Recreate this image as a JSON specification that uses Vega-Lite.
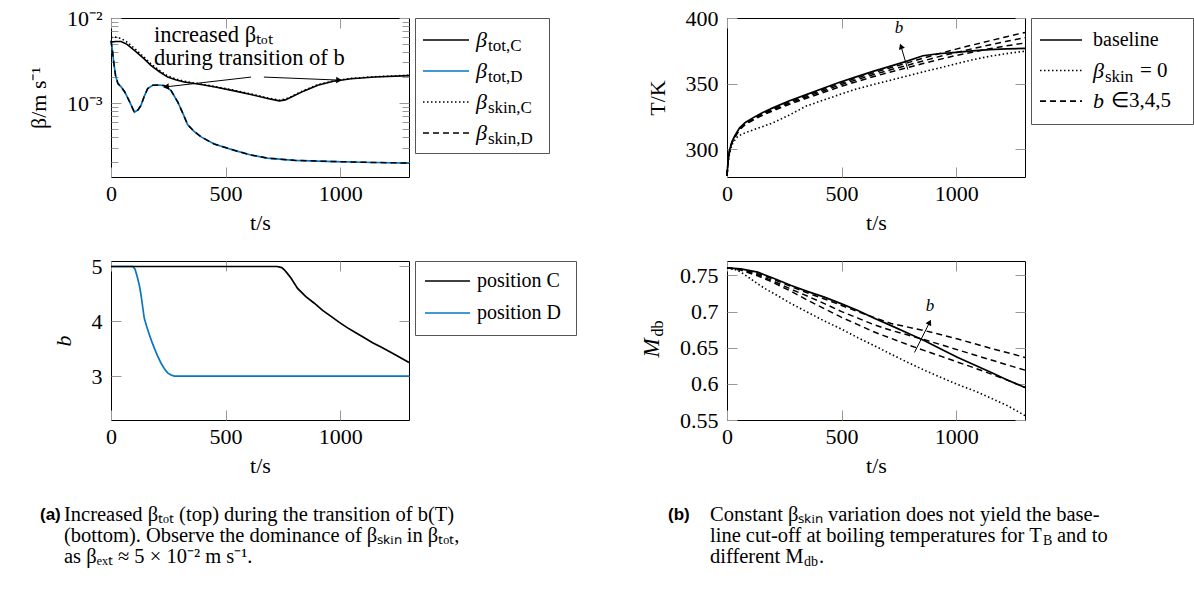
{
"$schema":"https://vega.github.io/schema/vega-lite/v6.json",
"padding":{"left":26,"top":6,"right":0,"bottom":0},
"background":"white",
"config":{
 "font":"Liberation Serif",
 "view":{"stroke":"#000","strokeWidth":1},
 "text":{"font":"Liberation Serif","color":"#000"},
 "axis":{"labelFont":"Liberation Serif","labelFontSize":22,"labelColor":"#000","titleFont":"Liberation Serif","titleFontSize":22,"titleFontWeight":"normal","titleColor":"#000","tickColor":"#999","tickSize":-10,"labelPadding":19,"domain":false,"grid":false,"labelFlush":false,"titlePadding":16}
},
"datasets":{
 "a1C":[{"t":0,"v":0.0052},{"t":20,"v":0.0053},{"t":44,"v":0.0053},{"t":70,"v":0.0049},{"t":102,"v":0.00417},{"t":140,"v":0.0034},{"t":174,"v":0.00278},{"t":210,"v":0.00235},{"t":247,"v":0.00202},{"t":285,"v":0.00187},{"t":320,"v":0.00177},{"t":393,"v":0.00165},{"t":460,"v":0.00153},{"t":538,"v":0.00139},{"t":610,"v":0.00126},{"t":683,"v":0.00113},{"t":734,"v":0.00106},{"t":760,"v":0.00109},{"t":785,"v":0.00117},{"t":840,"v":0.00138},{"t":902,"v":0.00162},{"t":970,"v":0.0018},{"t":1047,"v":0.00193},{"t":1150,"v":0.00202},{"t":1300,"v":0.0021}],
 "a1Cs":[{"t":0,"v":0.0059},{"t":20,"v":0.00595},{"t":44,"v":0.00575},{"t":70,"v":0.0052},{"t":102,"v":0.0044},{"t":140,"v":0.00355},{"t":174,"v":0.0029},{"t":210,"v":0.00243},{"t":247,"v":0.00208},{"t":285,"v":0.00191},{"t":320,"v":0.0018},{"t":393,"v":0.00167},{"t":460,"v":0.00155},{"t":538,"v":0.00141},{"t":610,"v":0.00128},{"t":683,"v":0.00115},{"t":734,"v":0.00108},{"t":760,"v":0.00111},{"t":785,"v":0.00119},{"t":840,"v":0.0014},{"t":902,"v":0.00164},{"t":970,"v":0.00182},{"t":1047,"v":0.00195},{"t":1150,"v":0.00204},{"t":1300,"v":0.00212}],
 "a1D":[{"t":0,"v":0.0054},{"t":6,"v":0.0042},{"t":12,"v":0.003},{"t":20,"v":0.0021},{"t":30,"v":0.0017},{"t":44,"v":0.00155},{"t":60,"v":0.00135},{"t":80,"v":0.00105},{"t":102,"v":0.00078},{"t":118,"v":0.00083},{"t":131,"v":0.00094},{"t":145,"v":0.0012},{"t":160,"v":0.00148},{"t":182,"v":0.00162},{"t":210,"v":0.00163},{"t":233,"v":0.0016},{"t":262,"v":0.0014},{"t":291,"v":0.00103},{"t":315,"v":0.00074},{"t":334,"v":0.00056},{"t":360,"v":0.00047},{"t":393,"v":0.0004},{"t":450,"v":0.00033},{"t":538,"v":0.000278},{"t":610,"v":0.000245},{"t":683,"v":0.000225},{"t":800,"v":0.000212},{"t":974,"v":0.000205},{"t":1150,"v":0.0002},{"t":1300,"v":0.000197}],
 "a1Ds":[{"t":0,"v":0.0054},{"t":6,"v":0.0042},{"t":12,"v":0.003},{"t":20,"v":0.0021},{"t":30,"v":0.0017},{"t":44,"v":0.00155},{"t":60,"v":0.00135},{"t":80,"v":0.00105},{"t":102,"v":0.00078},{"t":118,"v":0.00083},{"t":131,"v":0.00094},{"t":145,"v":0.0012},{"t":160,"v":0.00148},{"t":182,"v":0.00162},{"t":210,"v":0.00163},{"t":233,"v":0.0016},{"t":262,"v":0.0014},{"t":291,"v":0.00103},{"t":315,"v":0.00074},{"t":334,"v":0.00056},{"t":360,"v":0.00047},{"t":393,"v":0.0004},{"t":450,"v":0.00033},{"t":538,"v":0.000278},{"t":610,"v":0.000245},{"t":683,"v":0.000225},{"t":800,"v":0.000212},{"t":974,"v":0.000205},{"t":1150,"v":0.0002},{"t":1300,"v":0.000197}],
 "a2C":[{"t":0,"v":5},{"t":725,"v":5},{"t":745,"v":4.98},{"t":756,"v":4.94},{"t":770,"v":4.87},{"t":785,"v":4.79},{"t":814,"v":4.6},{"t":850,"v":4.45},{"t":887,"v":4.33},{"t":923,"v":4.2},{"t":960,"v":4.09},{"t":996,"v":3.98},{"t":1032,"v":3.88},{"t":1068,"v":3.79},{"t":1105,"v":3.7},{"t":1141,"v":3.61},{"t":1178,"v":3.53},{"t":1240,"v":3.39},{"t":1300,"v":3.25}],
 "a2D":[{"t":0,"v":5},{"t":95,"v":5},{"t":105,"v":4.95},{"t":116,"v":4.79},{"t":124,"v":4.65},{"t":131,"v":4.48},{"t":138,"v":4.27},{"t":145,"v":4.06},{"t":156,"v":3.9},{"t":167,"v":3.76},{"t":178,"v":3.63},{"t":189,"v":3.51},{"t":203,"v":3.37},{"t":218,"v":3.24},{"t":232,"v":3.14},{"t":247,"v":3.06},{"t":262,"v":3.02},{"t":276,"v":3.0},{"t":1300,"v":3.0}],
 "b1base":[{"t":0,"v":280},{"t":4,"v":290},{"t":12,"v":300},{"t":22,"v":306},{"t":33,"v":310},{"t":55,"v":316.4},{"t":80,"v":320.5},{"t":113,"v":324},{"t":150,"v":327.6},{"t":200,"v":331.6},{"t":270,"v":336.8},{"t":346,"v":341.7},{"t":420,"v":346.5},{"t":491,"v":351.1},{"t":560,"v":355},{"t":637,"v":359.4},{"t":710,"v":363.2},{"t":782,"v":367},{"t":855,"v":371.3},{"t":920,"v":372.8},{"t":1000,"v":373.9},{"t":1070,"v":375},{"t":1145,"v":375.9},{"t":1220,"v":376.5},{"t":1300,"v":376.9}],
 "b1b5":[{"t":0,"v":280},{"t":4,"v":290},{"t":12,"v":300},{"t":22,"v":305.7},{"t":33,"v":309.6},{"t":55,"v":315.9},{"t":80,"v":320},{"t":113,"v":323.4},{"t":150,"v":327},{"t":200,"v":330.9},{"t":270,"v":336},{"t":346,"v":340.9},{"t":420,"v":345.6},{"t":491,"v":350.1},{"t":560,"v":354},{"t":637,"v":358.2},{"t":710,"v":362},{"t":782,"v":365.6},{"t":855,"v":369.4},{"t":920,"v":372.6},{"t":1000,"v":376.3},{"t":1070,"v":379.4},{"t":1145,"v":382.6},{"t":1220,"v":385.8},{"t":1300,"v":389}],
 "b1b4":[{"t":0,"v":280},{"t":4,"v":289.8},{"t":12,"v":299.8},{"t":22,"v":305.4},{"t":33,"v":309.2},{"t":55,"v":315.4},{"t":80,"v":319.4},{"t":113,"v":322.8},{"t":150,"v":326.3},{"t":200,"v":330.1},{"t":270,"v":335.1},{"t":346,"v":339.9},{"t":420,"v":344.5},{"t":491,"v":348.9},{"t":560,"v":352.7},{"t":637,"v":356.8},{"t":710,"v":360.4},{"t":782,"v":363.8},{"t":855,"v":367.3},{"t":920,"v":370.4},{"t":1000,"v":373.8},{"t":1070,"v":376.6},{"t":1145,"v":379.5},{"t":1220,"v":382.3},{"t":1300,"v":385}],
 "b1b3":[{"t":0,"v":280},{"t":4,"v":289.6},{"t":12,"v":299.5},{"t":22,"v":305.1},{"t":33,"v":308.8},{"t":55,"v":314.9},{"t":80,"v":318.9},{"t":113,"v":322.2},{"t":150,"v":325.6},{"t":200,"v":329.3},{"t":270,"v":334.2},{"t":346,"v":338.9},{"t":420,"v":343.3},{"t":491,"v":347.6},{"t":560,"v":351.3},{"t":637,"v":355.3},{"t":710,"v":358.7},{"t":782,"v":362},{"t":855,"v":365.3},{"t":920,"v":368.2},{"t":1000,"v":371.5},{"t":1070,"v":374},{"t":1145,"v":376.6},{"t":1220,"v":378.8},{"t":1300,"v":381}],
 "b1skin":[{"t":0,"v":280},{"t":5,"v":290},{"t":12,"v":298},{"t":25,"v":305},{"t":45,"v":309.5},{"t":62,"v":311.3},{"t":100,"v":314},{"t":150,"v":317},{"t":200,"v":320.2},{"t":270,"v":326},{"t":346,"v":333},{"t":420,"v":337.5},{"t":491,"v":341.7},{"t":560,"v":345.7},{"t":637,"v":349.3},{"t":710,"v":352.5},{"t":782,"v":355.7},{"t":855,"v":359},{"t":927,"v":362},{"t":1000,"v":365.2},{"t":1073,"v":368.3},{"t":1150,"v":371},{"t":1230,"v":373.2},{"t":1300,"v":374.7}],
 "b2base":[{"t":0,"v":0.7605},{"t":60,"v":0.759},{"t":134,"v":0.7546},{"t":200,"v":0.7465},{"t":280,"v":0.736},{"t":350,"v":0.728},{"t":425,"v":0.72},{"t":500,"v":0.7107},{"t":571,"v":0.7014},{"t":640,"v":0.691},{"t":716,"v":0.6806},{"t":790,"v":0.67},{"t":862,"v":0.6597},{"t":935,"v":0.648},{"t":1007,"v":0.6366},{"t":1080,"v":0.626},{"t":1153,"v":0.6157},{"t":1225,"v":0.605},{"t":1300,"v":0.595}],
 "b2b5":[{"t":0,"v":0.7605},{"t":60,"v":0.7585},{"t":134,"v":0.7525},{"t":200,"v":0.745},{"t":280,"v":0.7345},{"t":350,"v":0.726},{"t":425,"v":0.7175},{"t":500,"v":0.7085},{"t":571,"v":0.7},{"t":640,"v":0.692},{"t":716,"v":0.6835},{"t":790,"v":0.6785},{"t":862,"v":0.6736},{"t":935,"v":0.668},{"t":1007,"v":0.662},{"t":1080,"v":0.6555},{"t":1153,"v":0.649},{"t":1225,"v":0.643},{"t":1300,"v":0.6366}],
 "b2b4":[{"t":0,"v":0.7605},{"t":60,"v":0.758},{"t":134,"v":0.751},{"t":200,"v":0.7425},{"t":280,"v":0.731},{"t":350,"v":0.7215},{"t":425,"v":0.711},{"t":500,"v":0.7},{"t":571,"v":0.691},{"t":640,"v":0.682},{"t":716,"v":0.674},{"t":790,"v":0.6675},{"t":862,"v":0.661},{"t":935,"v":0.654},{"t":1007,"v":0.647},{"t":1080,"v":0.64},{"t":1153,"v":0.633},{"t":1225,"v":0.626},{"t":1300,"v":0.619}],
 "b2b3":[{"t":0,"v":0.7605},{"t":60,"v":0.7575},{"t":134,"v":0.7495},{"t":200,"v":0.7405},{"t":280,"v":0.728},{"t":350,"v":0.716},{"t":425,"v":0.704},{"t":500,"v":0.692},{"t":571,"v":0.682},{"t":640,"v":0.672},{"t":716,"v":0.663},{"t":790,"v":0.654},{"t":862,"v":0.646},{"t":935,"v":0.638},{"t":1007,"v":0.63},{"t":1080,"v":0.622},{"t":1153,"v":0.6135},{"t":1225,"v":0.605},{"t":1300,"v":0.595}],
 "b2skin":[{"t":0,"v":0.7606},{"t":30,"v":0.759},{"t":61,"v":0.7546},{"t":100,"v":0.746},{"t":134,"v":0.7384},{"t":170,"v":0.731},{"t":207,"v":0.7245},{"t":280,"v":0.711},{"t":352,"v":0.699},{"t":425,"v":0.687},{"t":498,"v":0.676},{"t":570,"v":0.664},{"t":643,"v":0.6528},{"t":716,"v":0.641},{"t":789,"v":0.6296},{"t":860,"v":0.619},{"t":934,"v":0.6088},{"t":1007,"v":0.599},{"t":1080,"v":0.5903},{"t":1153,"v":0.58},{"t":1226,"v":0.5694},{"t":1300,"v":0.556}]
},
"columns":5,
"spacing":{"row":84,"column":6},
"bounds":"flush",
"align":"each",
"resolve":{"scale":{"color":"independent","strokeDash":"independent"}},
"concat":[
{"width":298,"height":159,
 "layer":[
  {"data":{"name":"a1D"},"mark":{"type":"line","stroke":"#0a75c2","strokeWidth":1.7},
   "encoding":{"x":{"field":"t","type":"quantitative","scale":{"domain":[0,1300],"nice":false,"zero":false},"axis":{"orient":"bottom","values":[0,500,1000],"format":"d","title":"t/s","labelPadding":16,"titlePadding":8}},
   "y":{"field":"v","type":"quantitative","scale":{"type":"log","domain":[0.000135,0.01],"nice":false},"axis":{"orient":"left","values":[0.001,0.01],"labelExpr":"datum.value < 0.005 ? '10⁻³' : '10⁻²'","title":"β/m s⁻¹"}}}},
  {"data":{"name":"a1Ds"},"mark":{"type":"line","stroke":"#000","strokeWidth":1.5,"strokeDash":[6,4]},
   "encoding":{"x":{"field":"t","type":"quantitative","scale":{"domain":[0,1300],"nice":false,"zero":false},"axis":{"orient":"top","values":[0,500,1000],"labels":false,"title":null}},
   "y":{"field":"v","type":"quantitative","scale":{"type":"log","domain":[0.000135,0.01],"nice":false},"axis":{"orient":"right","values":[0.001,0.01],"labels":false,"title":null}}}},
  {"data":{"name":"a1C"},"mark":{"type":"line","stroke":"#000","strokeWidth":1.6},
   "encoding":{"x":{"field":"t","type":"quantitative","scale":{"domain":[0,1300],"nice":false,"zero":false},"axis":null},
   "y":{"field":"v","type":"quantitative","scale":{"type":"log","domain":[0.000135,0.01],"nice":false},"axis":{"orient":"left","values":[0.0002,0.0003,0.0004,0.0005,0.0006,0.0007,0.0008,0.0009,0.002,0.003,0.004,0.005,0.006,0.007,0.008,0.009],"labels":false,"title":null,"tickSize":-7}}}},
  {"data":{"name":"a1Cs"},"mark":{"type":"line","stroke":"#000","strokeWidth":1.6,"strokeDash":[1.5,2.5]},
   "encoding":{"x":{"field":"t","type":"quantitative","scale":{"domain":[0,1300],"nice":false,"zero":false},"axis":null},
   "y":{"field":"v","type":"quantitative","scale":{"type":"log","domain":[0.000135,0.01],"nice":false},"axis":{"orient":"right","values":[0.0002,0.0003,0.0004,0.0005,0.0006,0.0007,0.0008,0.0009,0.002,0.003,0.004,0.005,0.006,0.007,0.008,0.009],"labels":false,"title":null,"tickSize":-7}}}},
  {"data":{"values":[{"t":188,"v":0.0063,"txt":"increased βₜₒₜ"},{"t":188,"v":0.00338,"txt":"during transition of b"}]},
   "mark":{"type":"text","align":"left","baseline":"middle","fontSize":22.5,"font":"Liberation Serif"},
   "encoding":{"x":{"field":"t","type":"quantitative","scale":{"domain":[0,1300],"nice":false,"zero":false},"axis":null},"y":{"field":"v","type":"quantitative","scale":{"type":"log","domain":[0.000135,0.01],"nice":false},"axis":null},"text":{"field":"txt"}}},
  {"data":{"values":[{"t":611,"v":0.00202,"t2":240,"v2":0.00155},{"t":667,"v":0.00202,"t2":995,"v2":0.00186}]},
   "mark":{"type":"rule","stroke":"#000","strokeWidth":1},
   "encoding":{"x":{"field":"t","type":"quantitative","scale":{"domain":[0,1300],"nice":false,"zero":false},"axis":null},"y":{"field":"v","type":"quantitative","scale":{"type":"log","domain":[0.000135,0.01],"nice":false},"axis":null},"x2":{"field":"t2"},"y2":{"field":"v2"}}},
  {"data":{"values":[{"t":240,"v":0.00155}]},
   "mark":{"type":"point","shape":"triangle-left","filled":true,"color":"#000","opacity":1,"size":45,"angle":-7},
   "encoding":{"x":{"field":"t","type":"quantitative","scale":{"domain":[0,1300],"nice":false,"zero":false},"axis":null},"y":{"field":"v","type":"quantitative","scale":{"type":"log","domain":[0.000135,0.01],"nice":false},"axis":null}}},
  {"data":{"values":[{"t":995,"v":0.00186}]},
   "mark":{"type":"point","shape":"triangle-right","filled":true,"color":"#000","opacity":1,"size":45,"angle":2},
   "encoding":{"x":{"field":"t","type":"quantitative","scale":{"domain":[0,1300],"nice":false,"zero":false},"axis":null},"y":{"field":"v","type":"quantitative","scale":{"type":"log","domain":[0.000135,0.01],"nice":false},"axis":null}}}
 ],
 "resolve":{"axis":{"x":"independent","y":"independent"}}
},
{"width":134,"height":135,"view":{"stroke":"#555"},
 "data":{"values":[{"k":1,"key":"totC","it":"β","sub":"tot,C"},{"k":2,"key":"totD","it":"β","sub":"tot,D"},{"k":3,"key":"skinC","it":"β","sub":"skin,C"},{"k":4,"key":"skinD","it":"β","sub":"skin,D"}]},
 "encoding":{"y":{"field":"k","type":"quantitative","scale":{"domain":[0.29,4.645],"reverse":true,"nice":false,"zero":false},"axis":null}},
 "layer":[
  {"mark":{"type":"rule","strokeWidth":1.6},
   "encoding":{"x":{"datum":8,"type":"quantitative","scale":{"domain":[0,134],"nice":false,"zero":false},"axis":null},"x2":{"datum":54},
   "color":{"field":"key","type":"nominal","scale":{"domain":["totC","totD","skinC","skinD"],"range":["#000000","#0a75c2","#000000","#000000"]},"legend":null},
   "strokeDash":{"field":"key","type":"nominal","scale":{"domain":["totC","totD","skinC","skinD"],"range":[[1,0],[1,0],[1.5,2.5],[6,4]]},"legend":null}}},
  {"mark":{"type":"text","align":"left","baseline":"middle","fontSize":22,"fontStyle":"italic","font":"Liberation Serif"},
   "encoding":{"x":{"datum":61,"type":"quantitative","scale":{"domain":[0,134],"nice":false,"zero":false},"axis":null},"text":{"field":"it"}}},
  {"mark":{"type":"text","align":"left","baseline":"middle","fontSize":17,"dx":12,"dy":6,"font":"Liberation Serif"},
   "encoding":{"x":{"datum":61,"type":"quantitative","scale":{"domain":[0,134],"nice":false,"zero":false},"axis":null},"text":{"field":"sub"}}}
 ]
},
{"width":139,"height":1,"view":{"stroke":null},"data":{"values":[{}]},"mark":{"type":"point","opacity":0},"encoding":{}},
{"width":298,"height":159,
 "layer":[
  {"data":{"name":"b1b3"},"mark":{"type":"line","stroke":"#000","strokeWidth":1.5,"strokeDash":[6,4]},
   "encoding":{"x":{"field":"t","type":"quantitative","scale":{"domain":[0,1300],"nice":false,"zero":false},"axis":{"orient":"bottom","values":[0,500,1000],"format":"d","title":"t/s","labelPadding":16,"titlePadding":8}},
   "y":{"field":"v","type":"quantitative","scale":{"domain":[279,400],"nice":false,"zero":false},"axis":{"orient":"left","values":[300,350,400],"title":"T/K"}}}},
  {"data":{"name":"b1b4"},"mark":{"type":"line","stroke":"#000","strokeWidth":1.5,"strokeDash":[6,4]},
   "encoding":{"x":{"field":"t","type":"quantitative","scale":{"domain":[0,1300],"nice":false,"zero":false},"axis":{"orient":"top","values":[0,500,1000],"labels":false,"title":null}},
   "y":{"field":"v","type":"quantitative","scale":{"domain":[279,400],"nice":false,"zero":false},"axis":{"orient":"right","values":[300,350,400],"labels":false,"title":null}}}},
  {"data":{"name":"b1b5"},"mark":{"type":"line","stroke":"#000","strokeWidth":1.5,"strokeDash":[6,4]},
   "encoding":{"x":{"field":"t","type":"quantitative","scale":{"domain":[0,1300],"nice":false,"zero":false},"axis":null},"y":{"field":"v","type":"quantitative","scale":{"domain":[279,400],"nice":false,"zero":false},"axis":null}}},
  {"data":{"name":"b1skin"},"mark":{"type":"line","stroke":"#000","strokeWidth":1.6,"strokeDash":[1.5,2.5]},
   "encoding":{"x":{"field":"t","type":"quantitative","scale":{"domain":[0,1300],"nice":false,"zero":false},"axis":null},"y":{"field":"v","type":"quantitative","scale":{"domain":[279,400],"nice":false,"zero":false},"axis":null}}},
  {"data":{"name":"b1base"},"mark":{"type":"line","stroke":"#000","strokeWidth":1.7},
   "encoding":{"x":{"field":"t","type":"quantitative","scale":{"domain":[0,1300],"nice":false,"zero":false},"axis":null},"y":{"field":"v","type":"quantitative","scale":{"domain":[279,400],"nice":false,"zero":false},"axis":null}}},
  {"data":{"values":[{"t":789,"v":360.7,"t2":759,"v2":378.5}]},"mark":{"type":"rule","stroke":"#000","strokeWidth":1},
   "encoding":{"x":{"field":"t","type":"quantitative","scale":{"domain":[0,1300],"nice":false,"zero":false},"axis":null},"y":{"field":"v","type":"quantitative","scale":{"domain":[279,400],"nice":false,"zero":false},"axis":null},"x2":{"field":"t2"},"y2":{"field":"v2"}}},
  {"data":{"values":[{"t":759,"v":378.5}]},"mark":{"type":"point","shape":"triangle-up","filled":true,"color":"#000","opacity":1,"size":40,"angle":-20},
   "encoding":{"x":{"field":"t","type":"quantitative","scale":{"domain":[0,1300],"nice":false,"zero":false},"axis":null},"y":{"field":"v","type":"quantitative","scale":{"domain":[279,400],"nice":false,"zero":false},"axis":null}}},
  {"data":{"values":[{"t":750,"v":392.4,"lab":"b"}]},"mark":{"type":"text","align":"center","baseline":"middle","fontSize":17,"fontStyle":"italic","font":"Liberation Serif"},
   "encoding":{"x":{"field":"t","type":"quantitative","scale":{"domain":[0,1300],"nice":false,"zero":false},"axis":null},"y":{"field":"v","type":"quantitative","scale":{"domain":[279,400],"nice":false,"zero":false},"axis":null},"text":{"field":"lab"}}}
 ],
 "resolve":{"axis":{"x":"independent","y":"independent"}}
},
{"width":162,"height":106,"view":{"stroke":"#555"},
 "data":{"values":[{"k":1,"key":"base","rm":"baseline","it":"","sub":"","tail":"","tail2":""},{"k":2,"key":"skin0","rm":"","it":"β","sub":"skin","tail":"= 0","tail2":""},{"k":3,"key":"bvar","rm":"","it":"b","sub":"","tail":"","tail2":"∈3,4,5"}]},
 "encoding":{"y":{"field":"k","type":"quantitative","scale":{"domain":[0.28,3.75],"reverse":true,"nice":false,"zero":false},"axis":null}},
 "layer":[
  {"mark":{"type":"rule","strokeWidth":1.6},
   "encoding":{"x":{"datum":9,"type":"quantitative","scale":{"domain":[0,162],"nice":false,"zero":false},"axis":null},"x2":{"datum":51},
   "color":{"field":"key","type":"nominal","scale":{"domain":["base","skin0","bvar"],"range":["#000000","#000000","#000000"]},"legend":null},
   "strokeDash":{"field":"key","type":"nominal","scale":{"domain":["base","skin0","bvar"],"range":[[1,0],[1.5,2.5],[6,4]]},"legend":null}}},
  {"mark":{"type":"text","align":"left","baseline":"middle","fontSize":20,"font":"Liberation Serif"},
   "encoding":{"x":{"datum":62,"type":"quantitative","scale":{"domain":[0,162],"nice":false,"zero":false},"axis":null},"text":{"field":"rm"}}},
  {"mark":{"type":"text","align":"left","baseline":"middle","fontSize":22,"fontStyle":"italic","font":"Liberation Serif"},
   "encoding":{"x":{"datum":62,"type":"quantitative","scale":{"domain":[0,162],"nice":false,"zero":false},"axis":null},"text":{"field":"it"}}},
  {"mark":{"type":"text","align":"left","baseline":"middle","fontSize":17,"dx":12,"dy":6,"font":"Liberation Serif"},
   "encoding":{"x":{"datum":62,"type":"quantitative","scale":{"domain":[0,162],"nice":false,"zero":false},"axis":null},"text":{"field":"sub"}}},
  {"mark":{"type":"text","align":"left","baseline":"middle","fontSize":21,"dx":47,"font":"Liberation Serif"},
   "encoding":{"x":{"datum":62,"type":"quantitative","scale":{"domain":[0,162],"nice":false,"zero":false},"axis":null},"text":{"field":"tail"}}},
  {"mark":{"type":"text","align":"left","baseline":"middle","fontSize":21,"dx":18,"font":"Liberation Serif"},
   "encoding":{"x":{"datum":62,"type":"quantitative","scale":{"domain":[0,162],"nice":false,"zero":false},"axis":null},"text":{"field":"tail2"}}}
 ]
},
{"width":298,"height":159,
 "layer":[
  {"data":{"name":"a2D"},"mark":{"type":"line","stroke":"#0a75c2","strokeWidth":1.7},
   "encoding":{"x":{"field":"t","type":"quantitative","scale":{"domain":[0,1300],"nice":false,"zero":false},"axis":{"orient":"bottom","values":[0,500,1000],"format":"d","title":"t/s","labelPadding":16,"titlePadding":8}},
   "y":{"field":"v","type":"quantitative","scale":{"domain":[2.2,5.1],"nice":false,"zero":false},"axis":{"orient":"left","values":[3,4,5],"title":"b","titleFontStyle":"italic"}}}},
  {"data":{"name":"a2C"},"mark":{"type":"line","stroke":"#000","strokeWidth":1.7},
   "encoding":{"x":{"field":"t","type":"quantitative","scale":{"domain":[0,1300],"nice":false,"zero":false},"axis":{"orient":"top","values":[0,500,1000],"labels":false,"title":null}},
   "y":{"field":"v","type":"quantitative","scale":{"domain":[2.2,5.1],"nice":false,"zero":false},"axis":{"orient":"right","values":[3,4,5],"labels":false,"title":null}}}}
 ],
 "resolve":{"axis":{"x":"independent","y":"independent"}}
},
{"width":161,"height":74,"view":{"stroke":"#555"},
 "data":{"values":[{"k":1,"key":"C","rm":"position C"},{"k":2,"key":"D","rm":"position D"}]},
 "encoding":{"y":{"field":"k","type":"quantitative","scale":{"domain":[0.375,2.69],"reverse":true,"nice":false,"zero":false},"axis":null}},
 "layer":[
  {"mark":{"type":"rule","strokeWidth":1.6},
   "encoding":{"x":{"datum":10,"type":"quantitative","scale":{"domain":[0,161],"nice":false,"zero":false},"axis":null},"x2":{"datum":55},
   "color":{"field":"key","type":"nominal","scale":{"domain":["C","D"],"range":["#000000","#0a75c2"]},"legend":null}}},
  {"mark":{"type":"text","align":"left","baseline":"middle","fontSize":20,"font":"Liberation Serif"},
   "encoding":{"x":{"datum":62,"type":"quantitative","scale":{"domain":[0,161],"nice":false,"zero":false},"axis":null},"text":{"field":"rm"}}}
 ]
},
{"width":1,"height":1,"view":{"stroke":null},"data":{"values":[{}]},"mark":{"type":"point","opacity":0},"encoding":{}},
{"width":298,"height":159,
 "layer":[
  {"data":{"name":"b2b3"},"mark":{"type":"line","stroke":"#000","strokeWidth":1.5,"strokeDash":[6,4]},
   "encoding":{"x":{"field":"t","type":"quantitative","scale":{"domain":[0,1300],"nice":false,"zero":false},"axis":{"orient":"bottom","values":[0,500,1000],"format":"d","title":"t/s","labelPadding":16,"titlePadding":8}},
   "y":{"field":"v","type":"quantitative","scale":{"domain":[0.55,0.77],"nice":false,"zero":false},"axis":{"orient":"left","values":[0.55,0.6,0.65,0.7,0.75],"format":".2~f","title":null}}}},
  {"data":{"name":"b2b4"},"mark":{"type":"line","stroke":"#000","strokeWidth":1.5,"strokeDash":[6,4]},
   "encoding":{"x":{"field":"t","type":"quantitative","scale":{"domain":[0,1300],"nice":false,"zero":false},"axis":{"orient":"top","values":[0,500,1000],"labels":false,"title":null}},
   "y":{"field":"v","type":"quantitative","scale":{"domain":[0.55,0.77],"nice":false,"zero":false},"axis":{"orient":"right","values":[0.55,0.6,0.65,0.7,0.75],"labels":false,"title":null}}}},
  {"data":{"name":"b2b5"},"mark":{"type":"line","stroke":"#000","strokeWidth":1.5,"strokeDash":[6,4]},
   "encoding":{"x":{"field":"t","type":"quantitative","scale":{"domain":[0,1300],"nice":false,"zero":false},"axis":null},"y":{"field":"v","type":"quantitative","scale":{"domain":[0.55,0.77],"nice":false,"zero":false},"axis":null}}},
  {"data":{"name":"b2skin"},"mark":{"type":"line","stroke":"#000","strokeWidth":1.6,"strokeDash":[1.5,2.5]},
   "encoding":{"x":{"field":"t","type":"quantitative","scale":{"domain":[0,1300],"nice":false,"zero":false},"axis":null},"y":{"field":"v","type":"quantitative","scale":{"domain":[0.55,0.77],"nice":false,"zero":false},"axis":null}}},
  {"data":{"name":"b2base"},"mark":{"type":"line","stroke":"#000","strokeWidth":1.7},
   "encoding":{"x":{"field":"t","type":"quantitative","scale":{"domain":[0,1300],"nice":false,"zero":false},"axis":null},"y":{"field":"v","type":"quantitative","scale":{"domain":[0.55,0.77],"nice":false,"zero":false},"axis":null}}},
  {"data":{"values":[{"t":818,"v":0.6435,"t2":884,"v2":0.6852}]},"mark":{"type":"rule","stroke":"#000","strokeWidth":1},
   "encoding":{"x":{"field":"t","type":"quantitative","scale":{"domain":[0,1300],"nice":false,"zero":false},"axis":null},"y":{"field":"v","type":"quantitative","scale":{"domain":[0.55,0.77],"nice":false,"zero":false},"axis":null},"x2":{"field":"t2"},"y2":{"field":"v2"}}},
  {"data":{"values":[{"t":884,"v":0.6852}]},"mark":{"type":"point","shape":"triangle-up","filled":true,"color":"#000","opacity":1,"size":40,"angle":27},
   "encoding":{"x":{"field":"t","type":"quantitative","scale":{"domain":[0,1300],"nice":false,"zero":false},"axis":null},"y":{"field":"v","type":"quantitative","scale":{"domain":[0.55,0.77],"nice":false,"zero":false},"axis":null}}},
  {"data":{"values":[{"t":886,"v":0.7083,"lab":"b"}]},"mark":{"type":"text","align":"center","baseline":"middle","fontSize":17,"fontStyle":"italic","font":"Liberation Serif"},
   "encoding":{"x":{"field":"t","type":"quantitative","scale":{"domain":[0,1300],"nice":false,"zero":false},"axis":null},"y":{"field":"v","type":"quantitative","scale":{"domain":[0.55,0.77],"nice":false,"zero":false},"axis":null},"text":{"field":"lab"}}},
  {"data":{"values":[{}]},"mark":{"type":"text","angle":270,"align":"left","baseline":"alphabetic","fontSize":23,"fontStyle":"italic","font":"Liberation Serif","dy":-68},
   "encoding":{"x":{"datum":0,"type":"quantitative","scale":{"domain":[0,1300],"nice":false,"zero":false},"axis":null},"y":{"datum":0.6365,"type":"quantitative","scale":{"domain":[0.55,0.77],"nice":false,"zero":false},"axis":null},"text":{"value":"M"}}},
  {"data":{"values":[{}]},"mark":{"type":"text","angle":270,"align":"left","baseline":"alphabetic","fontSize":16,"dx":21,"dy":-64,"font":"Liberation Serif"},
   "encoding":{"x":{"datum":0,"type":"quantitative","scale":{"domain":[0,1300],"nice":false,"zero":false},"axis":null},"y":{"datum":0.6365,"type":"quantitative","scale":{"domain":[0.55,0.77],"nice":false,"zero":false},"axis":null},"text":{"value":"db"}}}
 ],
 "resolve":{"axis":{"x":"independent","y":"independent"}}
},
{"width":1,"height":1,"view":{"stroke":null},"data":{"values":[{}]},"mark":{"type":"point","opacity":0},"encoding":{}},
{"width":298,"height":62,"view":{"stroke":null},
 "data":{"values":[{"ln":1,"lab":"(a)","txt":"Increased βₜₒₜ (top) during the transition of b(T)"},{"ln":2,"lab":"","txt":"(bottom). Observe the dominance of βₛₖᵢₙ in βₜₒₜ,"},{"ln":3,"lab":"","txt":"as βₑₓₜ ≈ 5 × 10⁻² m s⁻¹."}]},
 "encoding":{"y":{"field":"ln","type":"quantitative","scale":{"domain":[0.476,3.43],"reverse":true,"nice":false,"zero":false},"axis":null}},
 "layer":[
  {"mark":{"type":"text","align":"left","baseline":"middle","fontSize":17,"font":"Liberation Sans","fontWeight":"bold"},
   "encoding":{"x":{"datum":-71,"type":"quantitative","scale":{"domain":[0,298],"nice":false,"zero":false},"axis":null},"text":{"field":"lab"}}},
  {"mark":{"type":"text","align":"left","baseline":"middle","fontSize":20.5,"font":"Liberation Serif"},
   "encoding":{"x":{"datum":-47,"type":"quantitative","scale":{"domain":[0,298],"nice":false,"zero":false},"axis":null},"text":{"field":"txt"}}}
 ]
},
{"width":1,"height":1,"view":{"stroke":null},"data":{"values":[{}]},"mark":{"type":"point","opacity":0},"encoding":{}},
{"width":1,"height":1,"view":{"stroke":null},"data":{"values":[{}]},"mark":{"type":"point","opacity":0},"encoding":{}},
{"width":298,"height":62,"view":{"stroke":null},
 "data":{"values":[{"ln":1,"lab":"(b)","a":"Constant βₛₖᵢₙ variation does not yield the base-","r":"","s":"","e":""},{"ln":2,"lab":"","a":"","r":"line cut-off at boiling temperatures for T","s":"B","e":"and to"},{"ln":3,"lab":"","a":"","r":"different M","s":"db","e":"."}]},
 "encoding":{"y":{"field":"ln","type":"quantitative","scale":{"domain":[0.476,3.43],"reverse":true,"nice":false,"zero":false},"axis":null}},
 "layer":[
  {"mark":{"type":"text","align":"left","baseline":"middle","fontSize":17,"font":"Liberation Sans","fontWeight":"bold"},
   "encoding":{"x":{"datum":-59,"type":"quantitative","scale":{"domain":[0,298],"nice":false,"zero":false},"axis":null},"text":{"field":"lab"}}},
  {"mark":{"type":"text","align":"left","baseline":"middle","fontSize":20.5,"font":"Liberation Serif"},
   "encoding":{"x":{"datum":-17,"type":"quantitative","scale":{"domain":[0,298],"nice":false,"zero":false},"axis":null},"text":{"field":"a"}}},
  {"transform":[{"filter":"datum.ln == 2"}],"mark":{"type":"text","align":"left","baseline":"middle","fontSize":20.5,"font":"Liberation Serif"},
   "encoding":{"x":{"datum":-17,"type":"quantitative","scale":{"domain":[0,298],"nice":false,"zero":false},"axis":null},"text":{"field":"r"}}},
  {"transform":[{"filter":"datum.ln == 2"}],"mark":{"type":"text","align":"left","baseline":"middle","fontSize":14,"dy":5,"font":"Liberation Serif"},
   "encoding":{"x":{"datum":316,"type":"quantitative","scale":{"domain":[0,298],"nice":false,"zero":false},"axis":null},"text":{"field":"s"}}},
  {"transform":[{"filter":"datum.ln == 2"}],"mark":{"type":"text","align":"left","baseline":"middle","fontSize":20.5,"font":"Liberation Serif"},
   "encoding":{"x":{"datum":330,"type":"quantitative","scale":{"domain":[0,298],"nice":false,"zero":false},"axis":null},"text":{"field":"e"}}},
  {"transform":[{"filter":"datum.ln == 3"}],"mark":{"type":"text","align":"left","baseline":"middle","fontSize":20.5,"font":"Liberation Serif"},
   "encoding":{"x":{"datum":-17,"type":"quantitative","scale":{"domain":[0,298],"nice":false,"zero":false},"axis":null},"text":{"field":"r"}}},
  {"transform":[{"filter":"datum.ln == 3"}],"mark":{"type":"text","align":"left","baseline":"middle","fontSize":14,"dy":5,"font":"Liberation Serif"},
   "encoding":{"x":{"datum":77,"type":"quantitative","scale":{"domain":[0,298],"nice":false,"zero":false},"axis":null},"text":{"field":"s"}}},
  {"transform":[{"filter":"datum.ln == 3"}],"mark":{"type":"text","align":"left","baseline":"middle","fontSize":20.5,"font":"Liberation Serif"},
   "encoding":{"x":{"datum":92,"type":"quantitative","scale":{"domain":[0,298],"nice":false,"zero":false},"axis":null},"text":{"field":"e"}}}
 ]
}
]
}
